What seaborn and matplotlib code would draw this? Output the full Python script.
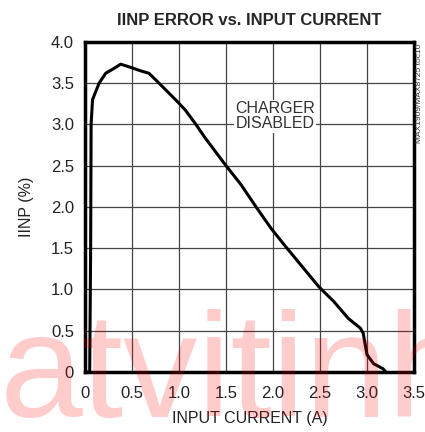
import numpy as np
import pandas as pd
import seaborn as sns
import matplotlib.pyplot as plt

# IINP error curve
current = [0.0, 0.05, 0.06, 0.065, 0.08, 0.15, 0.22, 0.31, 0.38, 0.49, 0.59, 0.68,
           0.77, 0.98, 1.07, 1.18, 1.27, 1.48, 1.66, 1.82, 1.98, 2.12, 2.41, 2.49,
           2.65, 2.8, 2.93, 2.96, 3.0, 3.07, 3.17, 3.2]
iinp = [0.0, 0.0, 1.5, 3.0, 3.30, 3.50, 3.62, 3.68, 3.73, 3.69, 3.65, 3.62,
        3.52, 3.28, 3.17, 3.00, 2.85, 2.53, 2.27, 2.00, 1.74, 1.54, 1.14, 1.03,
        0.85, 0.65, 0.53, 0.47, 0.21, 0.10, 0.04, 0.0]
xticks = [0, 0.5, 1.0, 1.5, 2.0, 2.5, 3.0, 3.5]
xlabels = ["0", "0.5", "1.0", "1.5", "2.0", "2.5", "3.0", "3.5"]
yticks = [0, 0.5, 1.0, 1.5, 2.0, 2.5, 3.0, 3.5, 4.0]
ylabels = ["0", "0.5", "1.0", "1.5", "2.0", "2.5", "3.0", "3.5", "4.0"]

df = pd.DataFrame({"current": current, "iinp": iinp})

sns.set_style("white")
plt.rcParams['font.family'] = ['Liberation Sans', 'DejaVu Sans']

fig = plt.figure(figsize=(4.25, 4.32), dpi=100)
ax = fig.add_axes([0.2, 0.139, 0.774, 0.764])
sns.lineplot(x="current", y="iinp", data=df, color="black", linewidth=2.2, ax=ax, sort=False)

ax.set_xlim(0, 3.5)
ax.set_ylim(0, 4.0)
ax.set_xticks(xticks)
ax.set_xticklabels(xlabels, fontsize=12, color="#222222")
ax.set_yticks(yticks)
ax.set_yticklabels(ylabels, fontsize=12, color="#222222")
ax.tick_params(axis="x", length=0, pad=10)
ax.tick_params(axis="y", length=0, pad=8)
ax.grid(True, color="#444444", linewidth=0.9)
for s in ax.spines.values():
    s.set_color("black")
    s.set_linewidth(2.5)
ax.set_xlabel("INPUT CURRENT (A)", fontsize=11.5, labelpad=7, color="#222222")
ax.set_ylabel("IINP (%)", fontsize=11.5, labelpad=12, color="#222222")
ax.set_title("IINP ERROR vs. INPUT CURRENT", fontsize=12, fontweight="bold", pad=12)

ax.text(2.02, 3.1, "CHARGER\nDISABLED", ha="center", va="center", fontsize=11.5,
        color="#333333", linespacing=1.0,
        bbox=dict(facecolor="white", edgecolor="none", pad=1))
fig.text(0.986, 0.9, "MAX1909/MAX8725 toc10", rotation=90, ha="center", va="top",
         fontsize=6, color="#333333")

fig.text(0.0, 0.035, "atvitinh", fontsize=107, color="red", alpha=0.2,
         ha="left", va="baseline", zorder=10)

fig.savefig("out.png", dpi=100)
